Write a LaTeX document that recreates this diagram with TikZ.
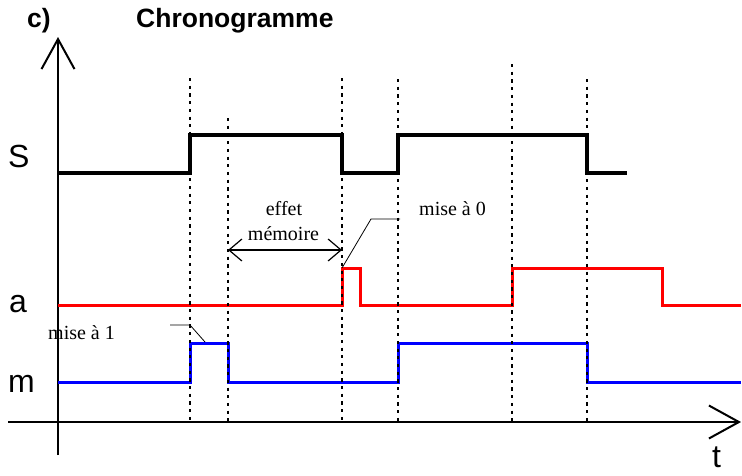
\documentclass[tikz,border=0pt]{standalone}
\usepackage{fontspec}
\setmainfont{Liberation Serif}
\newfontfamily\arial{Liberation Sans}
\usetikzlibrary{arrows.meta}
\begin{document}
\begin{tikzpicture}[x=1pt,y=-1pt,
  axis/.style={line width=2pt, line cap=butt, -{Straight Barb[length=30pt,width=33pt]}},
  guide/.style={line width=1.8pt, dash pattern=on 3.2pt off 4.5pt},
  sigS/.style={line width=4pt, black},
  sigA/.style={line width=3pt, red},
  sigM/.style={line width=3pt, blue},
  leader/.style={line width=0.8pt, black},
  span/.style={line width=1.2pt, {Straight Barb[length=13pt,width=22pt]}-{Straight Barb[length=13pt,width=22pt]}},
  big/.style={inner sep=0pt, font=\arial\fontsize{32}{32}\selectfont},
  head/.style={inner sep=0pt, font=\arial\bfseries\fontsize{26.5}{26.5}\selectfont},
  note/.style={inner sep=0pt, font=\fontsize{20}{20}\selectfont}]
\useasboundingbox (0,0) rectangle (742,475);

% axes
\coordinate (ybot) at (58,455);
\coordinate (ytop) at (58,37);
\coordinate (xl) at (8,422);
\coordinate (xr) at (741,422);
\draw[axis] (ybot) -- (ytop);
\draw[axis] (xl) -- (xr);

% signals
\draw[sigS] (58,173) -| (190,135) -| (342,173) -| (398,135) -| (587,173) -- (627,173);
\draw[sigA] (58,305) -| (342,268) -| (360,305) -| (512,268) -| (662,305) -- (741,305);
\draw[sigM] (58,382) -| (190,343) -| (228,382) -| (398,343) -| (587,382) -- (741,382);

% time markers
\foreach \x/\top [count=\i] in {190/78,228/118,342/78,398/79,512/64,587/79}{
  \coordinate (g\i t) at (\x,\top);
  \coordinate (g\i b) at (\x,422);
  \draw[guide] (g\i t) -- (g\i b);
}

% titles and signal names
\node[head, anchor=base west] (lab) at (27,27) {c)};
\node[head, anchor=base west] (title) at (136,27) {Chronogramme};
\node[big, anchor=base west] (nS) at (8,167) {S};
\node[big, anchor=base west] (na) at (9,312) {a};
\node[big, anchor=base west] (nm) at (8,392) {m};
\node[big, anchor=base west] (nt) at (712,467) {t};

% memory effect span
\node[note, anchor=base] (eff1) at (284,215) {effet};
\node[note, anchor=base] (eff2) at (283.5,240) {mémoire};
\coordinate (spL) at (228,250);
\coordinate (spR) at (342,250);
\draw[span] (spL) -- (spR);

% reset annotation
\node[note, anchor=base west] (rst) at (419,215) {mise à 0};
\coordinate (r0) at (342,268);
\coordinate (r1) at (371,219);
\coordinate (r2) at (400,219);
\draw[leader] (r0) -- (r1) -- (r2);

% set annotation
\node[note, anchor=base west] (st) at (48,339) {mise à 1};
\coordinate (s0) at (170,325);
\coordinate (s1) at (190,325);
\coordinate (s2) at (205,342);
\draw[leader] (s0) -- (s1) -- (s2);
\end{tikzpicture}
\end{document}
